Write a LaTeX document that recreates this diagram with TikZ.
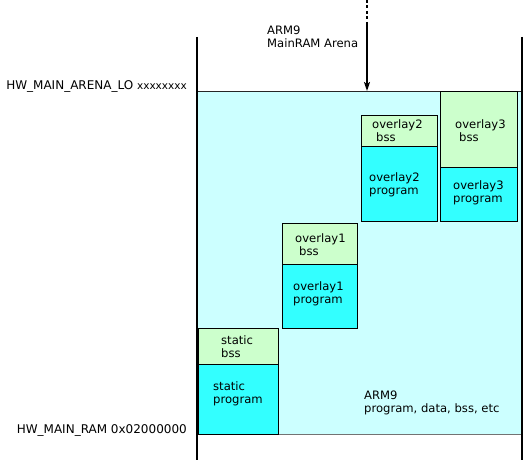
\documentclass[tikz,border=0pt]{standalone}
\usepackage{fontspec}
\setmainfont{DejaVu Sans}
\usetikzlibrary{arrows.meta}
\definecolor{arenafill}{HTML}{CCFFFF}
\definecolor{progfill}{HTML}{33FFFF}
\definecolor{bssfill}{HTML}{CCFFCC}
\begin{document}
\begin{tikzpicture}[x=1pt,y=-1pt,
  segbox/.style={draw=black,line width=0.9pt,inner sep=0pt,anchor=north west},
  lbl/.style={font=\fontsize{11.6}{13}\selectfont,align=left,anchor=west,inner sep=0pt},
  hwlbl/.style={font=\fontsize{12}{13}\selectfont,anchor=east,inner sep=0pt},
  axisline/.style={line width=2pt,black}]
\useasboundingbox (0,0) rectangle (525,460);
% arena background
\node[fill=arenafill,inner sep=0pt,minimum width=325pt,minimum height=343pt,anchor=north west] (arena) at (197,91) {};
\draw[line width=0.8pt,black!85] (arena.north west) -- (arena.north east);
\draw[line width=0.8pt,black!55] (arena.south west) -- (arena.south east);
% axis lines
\coordinate (ltop) at (197,37); \coordinate (lbot) at (197,460);
\coordinate (rtop) at (522,37); \coordinate (rbot) at (522,460);
\draw[axisline] (ltop) -- (lbot);
\draw[axisline] (rtop) -- (rbot);
% segments
\node[segbox,fill=bssfill,minimum width=80pt,minimum height=36pt] (stbss) at (198,328) {};
\node[segbox,fill=progfill,minimum width=80pt,minimum height=70pt] (stprog) at (198,364) {};
\node[segbox,fill=bssfill,minimum width=75pt,minimum height=41pt] (o1bss) at (282,223) {};
\node[segbox,fill=progfill,minimum width=75pt,minimum height=64pt] (o1prog) at (282,264) {};
\node[segbox,fill=bssfill,minimum width=76pt,minimum height=31pt] (o2bss) at (361,115) {};
\node[segbox,fill=progfill,minimum width=76pt,minimum height=75pt] (o2prog) at (361,146) {};
\node[segbox,fill=bssfill,minimum width=77pt,minimum height=76pt] (o3bss) at (440,91) {};
\node[segbox,fill=progfill,minimum width=77pt,minimum height=54pt] (o3prog) at (440,167) {};
% labels
\node[lbl] (stbssl) at (221,346.5) {static\\bss};
\node[lbl] (stprogl) at (213,394) {static\\program};
\node[lbl] (o1bssl) at (295,244.5) {overlay1\\\hspace*{4pt}bss};
\node[lbl] (o1progl) at (293,293.5) {overlay1\\program};
\node[lbl] (o2bssl) at (372,131) {overlay2\\\hspace*{4pt}bss};
\node[lbl] (o2progl) at (369,185) {overlay2\\program};
\node[lbl] (o3bssl) at (455,131) {overlay3\\\hspace*{4pt}bss};
\node[lbl] (o3progl) at (453,192.5) {overlay3\\program};
\node[lbl] (arm9l) at (364,402.5) {ARM9\\program, data, bss, etc};
\node[lbl] (arenal) at (267,36.5) {ARM9\\MainRAM Arena};
\node[hwlbl] (hwram) at (187,430) {HW\_MAIN\_RAM 0x02000000};
\node[hwlbl] (hwarena) at (187,86) {HW\_MAIN\_ARENA\_LO {\fontsize{10.5}{12}\selectfont xxxxxxxx}};
% arrow
\coordinate (arrtop) at (367,0);
\coordinate (arrmid) at (367,25);
\draw[line width=1.6pt,dash pattern=on 3pt off 2.5pt] (arrtop) -- (arrmid);
\draw[line width=1.6pt,-{Stealth[length=9pt,width=6pt,inset=2pt]}] (arrmid) -- (arrmid |- arena.north);
\end{tikzpicture}
\end{document}
